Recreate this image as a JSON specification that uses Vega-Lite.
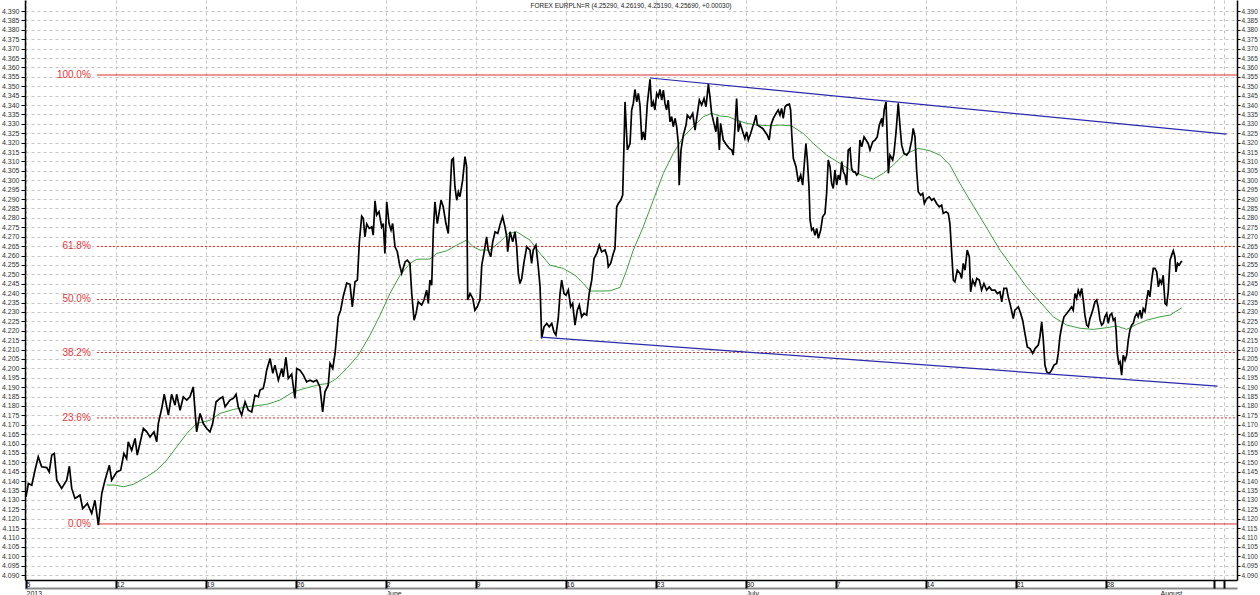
{
  "$schema": "https://vega.github.io/schema/vega-lite/v6.json",
  "width": 1212,
  "height": 580,
  "autosize": {"type": "none"},
  "padding": {"left": 25, "right": 23, "top": 0, "bottom": 15},
  "background": "white",
  "title": {"text": "FOREX EURPLN=R (4.25290, 4.26190, 4.25190, 4.25690, +0.00030)", "anchor": "middle", "offset": -9, "fontSize": 6.5, "fontWeight": "normal", "color": "#222222", "font": "Liberation Sans"},
  "config": {"view": {"stroke": null}, "font": "Liberation Sans"},
  "datasets": {
    "price": [
      {"d":0.00,"v":4.1316},{"d":0.13,"v":4.1387},{"d":0.32,"v":4.1378},{"d":0.50,"v":4.1458},{"d":0.68,"v":4.1529},{"d":0.87,"v":4.1476},{"d":1.15,"v":4.1472},{"d":1.29,"v":4.1449},{"d":1.43,"v":4.1538},{"d":1.57,"v":4.1547},{"d":1.71,"v":4.1405},{"d":1.98,"v":4.1361},{"d":2.26,"v":4.1405},{"d":2.41,"v":4.1479},{"d":2.54,"v":4.1361},{"d":2.72,"v":4.1308},{"d":3.00,"v":4.1325},{"d":3.15,"v":4.1254},{"d":3.41,"v":4.1281},{"d":3.65,"v":4.1228},{"d":3.83,"v":4.1298},{"d":4.02,"v":4.1166},{"d":4.21,"v":4.1334},{"d":4.39,"v":4.1405},{"d":4.63,"v":4.1485},{"d":4.76,"v":4.1405},{"d":5.04,"v":4.1449},{"d":5.26,"v":4.1458},{"d":5.44,"v":4.1547},{"d":5.59,"v":4.1520},{"d":5.68,"v":4.1609},{"d":5.87,"v":4.1564},{"d":6.06,"v":4.1627},{"d":6.18,"v":4.1538},{"d":6.33,"v":4.1600},{"d":6.52,"v":4.1680},{"d":6.71,"v":4.1662},{"d":6.89,"v":4.1635},{"d":7.11,"v":4.1662},{"d":7.26,"v":4.1609},{"d":7.35,"v":4.1706},{"d":7.54,"v":4.1786},{"d":7.68,"v":4.1862},{"d":7.91,"v":4.1751},{"d":8.09,"v":4.1862},{"d":8.28,"v":4.1804},{"d":8.37,"v":4.1862},{"d":8.56,"v":4.1777},{"d":8.74,"v":4.1848},{"d":8.93,"v":4.1831},{"d":9.11,"v":4.1848},{"d":9.29,"v":4.1901},{"d":9.48,"v":4.1662},{"d":9.67,"v":4.1760},{"d":9.85,"v":4.1706},{"d":10.04,"v":4.1680},{"d":10.22,"v":4.1662},{"d":10.37,"v":4.1706},{"d":10.56,"v":4.1822},{"d":10.78,"v":4.1840},{"d":10.93,"v":4.1848},{"d":11.06,"v":4.1795},{"d":11.33,"v":4.1831},{"d":11.52,"v":4.1840},{"d":11.67,"v":4.1862},{"d":11.79,"v":4.1795},{"d":11.98,"v":4.1751},{"d":12.17,"v":4.1822},{"d":12.35,"v":4.1777},{"d":12.54,"v":4.1768},{"d":12.72,"v":4.1857},{"d":12.91,"v":4.1848},{"d":13.00,"v":4.1884},{"d":13.18,"v":4.1893},{"d":13.28,"v":4.1937},{"d":13.37,"v":4.1990},{"d":13.56,"v":4.2052},{"d":13.71,"v":4.1973},{"d":13.83,"v":4.2017},{"d":14.02,"v":4.1937},{"d":14.21,"v":4.1999},{"d":14.29,"v":4.1955},{"d":14.44,"v":4.2058},{"d":14.57,"v":4.1946},{"d":14.76,"v":4.1969},{"d":14.89,"v":4.1875},{"d":14.94,"v":4.1840},{"d":15.04,"v":4.1999},{"d":15.22,"v":4.1990},{"d":15.41,"v":4.1964},{"d":15.59,"v":4.1928},{"d":15.78,"v":4.1937},{"d":15.96,"v":4.1928},{"d":16.15,"v":4.1937},{"d":16.33,"v":4.1901},{"d":16.48,"v":4.1768},{"d":16.61,"v":4.1875},{"d":16.79,"v":4.1910},{"d":16.89,"v":4.2026},{"d":17.04,"v":4.1999},{"d":17.17,"v":4.2079},{"d":17.35,"v":4.2274},{"d":17.48,"v":4.2309},{"d":17.63,"v":4.2385},{"d":17.82,"v":4.2453},{"d":18.00,"v":4.2447},{"d":18.13,"v":4.2327},{"d":18.28,"v":4.2460},{"d":18.41,"v":4.2469},{"d":18.52,"v":4.2673},{"d":18.65,"v":4.2809},{"d":18.74,"v":4.2797},{"d":18.83,"v":4.2699},{"d":18.93,"v":4.2767},{"d":19.07,"v":4.2744},{"d":19.21,"v":4.2752},{"d":19.29,"v":4.2708},{"d":19.39,"v":4.2891},{"d":19.48,"v":4.2815},{"d":19.61,"v":4.2833},{"d":19.76,"v":4.2752},{"d":19.85,"v":4.2770},{"d":19.94,"v":4.2611},{"d":20.04,"v":4.2886},{"d":20.17,"v":4.2770},{"d":20.28,"v":4.2735},{"d":20.37,"v":4.2770},{"d":20.50,"v":4.2646},{"d":20.63,"v":4.2620},{"d":20.74,"v":4.2558},{"d":20.87,"v":4.2505},{"d":21.06,"v":4.2566},{"d":21.18,"v":4.2575},{"d":21.33,"v":4.2558},{"d":21.43,"v":4.2398},{"d":21.56,"v":4.2256},{"d":21.67,"v":4.2292},{"d":21.79,"v":4.2354},{"d":21.98,"v":4.2336},{"d":22.11,"v":4.2363},{"d":22.26,"v":4.2416},{"d":22.35,"v":4.2345},{"d":22.44,"v":4.2469},{"d":22.54,"v":4.2442},{"d":22.63,"v":4.2735},{"d":22.72,"v":4.2886},{"d":22.85,"v":4.2770},{"d":22.96,"v":4.2833},{"d":23.06,"v":4.2894},{"d":23.18,"v":4.2859},{"d":23.33,"v":4.2770},{"d":23.46,"v":4.2717},{"d":23.56,"v":4.2930},{"d":23.65,"v":4.3108},{"d":23.74,"v":4.3117},{"d":23.83,"v":4.2966},{"d":23.93,"v":4.2894},{"d":24.02,"v":4.2939},{"d":24.11,"v":4.2913},{"d":24.26,"v":4.3002},{"d":24.39,"v":4.3126},{"d":24.48,"v":4.3072},{"d":24.54,"v":4.2363},{"d":24.67,"v":4.2398},{"d":24.82,"v":4.2372},{"d":24.94,"v":4.2309},{"d":25.07,"v":4.2327},{"d":25.22,"v":4.2363},{"d":25.32,"v":4.2549},{"d":25.44,"v":4.2611},{"d":25.59,"v":4.2699},{"d":25.68,"v":4.2629},{"d":25.82,"v":4.2593},{"d":25.93,"v":4.2673},{"d":26.06,"v":4.2726},{"d":26.21,"v":4.2717},{"d":26.33,"v":4.2762},{"d":26.48,"v":4.2806},{"d":26.61,"v":4.2752},{"d":26.71,"v":4.2699},{"d":26.76,"v":4.2620},{"d":26.89,"v":4.2726},{"d":27.04,"v":4.2673},{"d":27.17,"v":4.2726},{"d":27.26,"v":4.2646},{"d":27.35,"v":4.2505},{"d":27.44,"v":4.2451},{"d":27.54,"v":4.2478},{"d":27.67,"v":4.2566},{"d":27.82,"v":4.2646},{"d":28.00,"v":4.2629},{"d":28.09,"v":4.2558},{"d":28.18,"v":4.2629},{"d":28.33,"v":4.2655},{"d":28.46,"v":4.2540},{"d":28.56,"v":4.2433},{"d":28.65,"v":4.2159},{"d":28.78,"v":4.2221},{"d":28.93,"v":4.2239},{"d":29.07,"v":4.2221},{"d":29.21,"v":4.2239},{"d":29.33,"v":4.2194},{"d":29.44,"v":4.2177},{"d":29.57,"v":4.2265},{"d":29.67,"v":4.2398},{"d":29.76,"v":4.2469},{"d":29.89,"v":4.2398},{"d":30.00,"v":4.2389},{"d":30.13,"v":4.2416},{"d":30.26,"v":4.2327},{"d":30.37,"v":4.2345},{"d":30.50,"v":4.2230},{"d":30.63,"v":4.2309},{"d":30.74,"v":4.2336},{"d":30.87,"v":4.2274},{"d":31.00,"v":4.2292},{"d":31.15,"v":4.2283},{"d":31.29,"v":4.2398},{"d":31.43,"v":4.2469},{"d":31.56,"v":4.2584},{"d":31.71,"v":4.2611},{"d":31.85,"v":4.2655},{"d":31.98,"v":4.2620},{"d":32.17,"v":4.2629},{"d":32.29,"v":4.2593},{"d":32.35,"v":4.2540},{"d":32.48,"v":4.2558},{"d":32.63,"v":4.2611},{"d":32.72,"v":4.2637},{"d":32.82,"v":4.2859},{"d":32.91,"v":4.2877},{"d":33.04,"v":4.2894},{"d":33.15,"v":4.2921},{"d":33.22,"v":4.3178},{"d":33.28,"v":4.3417},{"d":33.41,"v":4.3161},{"d":33.56,"v":4.3196},{"d":33.65,"v":4.3374},{"d":33.74,"v":4.3409},{"d":33.83,"v":4.3483},{"d":33.93,"v":4.3417},{"d":34.02,"v":4.3462},{"d":34.11,"v":4.3400},{"d":34.21,"v":4.3214},{"d":34.29,"v":4.3258},{"d":34.39,"v":4.3214},{"d":34.52,"v":4.3409},{"d":34.67,"v":4.3537},{"d":34.76,"v":4.3391},{"d":34.85,"v":4.3417},{"d":34.94,"v":4.3374},{"d":35.04,"v":4.3462},{"d":35.13,"v":4.3444},{"d":35.22,"v":4.3483},{"d":35.32,"v":4.3427},{"d":35.41,"v":4.3480},{"d":35.50,"v":4.3409},{"d":35.59,"v":4.3374},{"d":35.68,"v":4.3427},{"d":35.78,"v":4.3311},{"d":35.87,"v":4.3338},{"d":35.96,"v":4.3285},{"d":36.06,"v":4.3329},{"d":36.15,"v":4.3285},{"d":36.24,"v":4.3196},{"d":36.29,"v":4.2974},{"d":36.39,"v":4.3161},{"d":36.52,"v":4.3241},{"d":36.67,"v":4.3294},{"d":36.74,"v":4.3347},{"d":36.89,"v":4.3329},{"d":37.04,"v":4.3356},{"d":37.17,"v":4.3267},{"d":37.26,"v":4.3329},{"d":37.41,"v":4.3427},{"d":37.54,"v":4.3400},{"d":37.67,"v":4.3435},{"d":37.78,"v":4.3391},{"d":37.91,"v":4.3512},{"d":38.00,"v":4.3444},{"d":38.09,"v":4.3356},{"d":38.22,"v":4.3303},{"d":38.33,"v":4.3258},{"d":38.41,"v":4.3338},{"d":38.52,"v":4.3161},{"d":38.59,"v":4.3303},{"d":38.74,"v":4.3214},{"d":38.93,"v":4.3187},{"d":39.07,"v":4.3170},{"d":39.21,"v":4.3161},{"d":39.29,"v":4.3134},{"d":39.39,"v":4.3285},{"d":39.48,"v":4.3435},{"d":39.57,"v":4.3258},{"d":39.67,"v":4.3303},{"d":39.82,"v":4.3258},{"d":39.94,"v":4.3222},{"d":40.04,"v":4.3258},{"d":40.13,"v":4.3214},{"d":40.26,"v":4.3249},{"d":40.37,"v":4.3285},{"d":40.44,"v":4.3303},{"d":40.56,"v":4.3347},{"d":40.63,"v":4.3294},{"d":40.78,"v":4.3285},{"d":40.93,"v":4.3276},{"d":41.06,"v":4.3258},{"d":41.18,"v":4.3241},{"d":41.29,"v":4.3214},{"d":41.39,"v":4.3294},{"d":41.52,"v":4.3329},{"d":41.67,"v":4.3356},{"d":41.79,"v":4.3374},{"d":41.89,"v":4.3347},{"d":41.98,"v":4.3382},{"d":42.07,"v":4.3329},{"d":42.17,"v":4.3391},{"d":42.26,"v":4.3400},{"d":42.41,"v":4.3405},{"d":42.48,"v":4.3374},{"d":42.54,"v":4.3249},{"d":42.63,"v":4.3117},{"d":42.78,"v":4.3072},{"d":42.91,"v":4.2992},{"d":43.04,"v":4.3028},{"d":43.15,"v":4.2974},{"d":43.22,"v":4.3063},{"d":43.33,"v":4.3196},{"d":43.41,"v":4.3108},{"d":43.50,"v":4.2966},{"d":43.56,"v":4.2789},{"d":43.65,"v":4.2735},{"d":43.74,"v":4.2744},{"d":43.83,"v":4.2708},{"d":43.93,"v":4.2744},{"d":44.02,"v":4.2691},{"d":44.15,"v":4.2735},{"d":44.26,"v":4.2806},{"d":44.39,"v":4.2824},{"d":44.48,"v":4.2930},{"d":44.57,"v":4.3108},{"d":44.67,"v":4.3072},{"d":44.76,"v":4.2983},{"d":44.85,"v":4.2957},{"d":44.94,"v":4.3055},{"d":45.04,"v":4.2974},{"d":45.13,"v":4.3028},{"d":45.22,"v":4.3001},{"d":45.32,"v":4.3099},{"d":45.41,"v":4.3045},{"d":45.50,"v":4.3028},{"d":45.59,"v":4.2974},{"d":45.68,"v":4.3161},{"d":45.78,"v":4.3170},{"d":45.87,"v":4.3063},{"d":45.96,"v":4.3045},{"d":46.06,"v":4.3045},{"d":46.15,"v":4.3028},{"d":46.24,"v":4.3037},{"d":46.33,"v":4.3214},{"d":46.43,"v":4.3178},{"d":46.56,"v":4.3231},{"d":46.67,"v":4.3214},{"d":46.79,"v":4.3196},{"d":46.89,"v":4.3161},{"d":47.04,"v":4.3205},{"d":47.17,"v":4.3214},{"d":47.29,"v":4.3231},{"d":47.41,"v":4.3294},{"d":47.54,"v":4.3329},{"d":47.59,"v":4.3285},{"d":47.68,"v":4.3374},{"d":47.78,"v":4.3417},{"d":47.85,"v":4.3214},{"d":47.91,"v":4.3037},{"d":48.00,"v":4.3134},{"d":48.15,"v":4.3108},{"d":48.22,"v":4.3143},{"d":48.33,"v":4.3249},{"d":48.46,"v":4.3409},{"d":48.56,"v":4.3285},{"d":48.65,"v":4.3187},{"d":48.78,"v":4.3143},{"d":48.93,"v":4.3134},{"d":49.07,"v":4.3152},{"d":49.21,"v":4.3214},{"d":49.29,"v":4.3276},{"d":49.39,"v":4.3231},{"d":49.48,"v":4.3055},{"d":49.57,"v":4.2939},{"d":49.71,"v":4.2921},{"d":49.82,"v":4.2930},{"d":49.91,"v":4.2877},{"d":50.04,"v":4.2903},{"d":50.18,"v":4.2912},{"d":50.32,"v":4.2894},{"d":50.44,"v":4.2903},{"d":50.59,"v":4.2877},{"d":50.74,"v":4.2859},{"d":50.87,"v":4.2868},{"d":50.96,"v":4.2824},{"d":51.11,"v":4.2833},{"d":51.24,"v":4.2824},{"d":51.33,"v":4.2770},{"d":51.43,"v":4.2611},{"d":51.52,"v":4.2469},{"d":51.61,"v":4.2460},{"d":51.74,"v":4.2522},{"d":51.89,"v":4.2505},{"d":51.98,"v":4.2478},{"d":52.07,"v":4.2558},{"d":52.17,"v":4.2522},{"d":52.29,"v":4.2629},{"d":52.41,"v":4.2593},{"d":52.48,"v":4.2407},{"d":52.59,"v":4.2469},{"d":52.72,"v":4.2442},{"d":52.82,"v":4.2478},{"d":52.96,"v":4.2469},{"d":53.09,"v":4.2416},{"d":53.22,"v":4.2451},{"d":53.37,"v":4.2416},{"d":53.52,"v":4.2433},{"d":53.65,"v":4.2416},{"d":53.83,"v":4.2416},{"d":53.96,"v":4.2398},{"d":54.11,"v":4.2407},{"d":54.21,"v":4.2354},{"d":54.33,"v":4.2425},{"d":54.48,"v":4.2425},{"d":54.57,"v":4.2380},{"d":54.71,"v":4.2327},{"d":54.85,"v":4.2265},{"d":54.94,"v":4.2309},{"d":55.04,"v":4.2318},{"d":55.13,"v":4.2327},{"d":55.26,"v":4.2292},{"d":55.37,"v":4.2256},{"d":55.50,"v":4.2185},{"d":55.63,"v":4.2114},{"d":55.78,"v":4.2105},{"d":55.93,"v":4.2079},{"d":56.06,"v":4.2105},{"d":56.24,"v":4.2123},{"d":56.33,"v":4.2167},{"d":56.43,"v":4.2247},{"d":56.52,"v":4.2150},{"d":56.61,"v":4.2017},{"d":56.71,"v":4.1981},{"d":56.85,"v":4.1973},{"d":56.98,"v":4.1990},{"d":57.11,"v":4.2017},{"d":57.26,"v":4.2026},{"d":57.35,"v":4.2079},{"d":57.44,"v":4.2167},{"d":57.54,"v":4.2221},{"d":57.67,"v":4.2274},{"d":57.82,"v":4.2292},{"d":57.96,"v":4.2309},{"d":58.09,"v":4.2327},{"d":58.18,"v":4.2309},{"d":58.28,"v":4.2398},{"d":58.37,"v":4.2372},{"d":58.46,"v":4.2416},{"d":58.56,"v":4.2389},{"d":58.65,"v":4.2425},{"d":58.74,"v":4.2363},{"d":58.83,"v":4.2283},{"d":58.93,"v":4.2230},{"d":59.02,"v":4.2221},{"d":59.11,"v":4.2265},{"d":59.21,"v":4.2292},{"d":59.29,"v":4.2318},{"d":59.39,"v":4.2354},{"d":59.48,"v":4.2363},{"d":59.57,"v":4.2327},{"d":59.67,"v":4.2256},{"d":59.76,"v":4.2230},{"d":59.85,"v":4.2239},{"d":59.94,"v":4.2274},{"d":60.04,"v":4.2292},{"d":60.13,"v":4.2239},{"d":60.22,"v":4.2283},{"d":60.32,"v":4.2292},{"d":60.41,"v":4.2256},{"d":60.50,"v":4.2265},{"d":60.56,"v":4.2203},{"d":60.63,"v":4.2079},{"d":60.71,"v":4.2026},{"d":60.78,"v":4.2035},{"d":60.87,"v":4.1964},{"d":60.96,"v":4.2070},{"d":61.06,"v":4.2043},{"d":61.15,"v":4.2070},{"d":61.24,"v":4.2150},{"d":61.33,"v":4.2203},{"d":61.43,"v":4.2230},{"d":61.52,"v":4.2239},{"d":61.61,"v":4.2274},{"d":61.71,"v":4.2292},{"d":61.79,"v":4.2274},{"d":61.89,"v":4.2309},{"d":61.98,"v":4.2265},{"d":62.07,"v":4.2318},{"d":62.17,"v":4.2301},{"d":62.26,"v":4.2363},{"d":62.35,"v":4.2416},{"d":62.44,"v":4.2380},{"d":62.54,"v":4.2469},{"d":62.63,"v":4.2531},{"d":62.72,"v":4.2531},{"d":62.82,"v":4.2513},{"d":62.91,"v":4.2433},{"d":63.00,"v":4.2469},{"d":63.09,"v":4.2451},{"d":63.18,"v":4.2495},{"d":63.28,"v":4.2345},{"d":63.37,"v":4.2336},{"d":63.46,"v":4.2407},{"d":63.56,"v":4.2575},{"d":63.65,"v":4.2602},{"d":63.74,"v":4.2625},{"d":63.83,"v":4.2593},{"d":63.89,"v":4.2513},{"d":63.98,"v":4.2558},{"d":64.07,"v":4.2549},{"d":64.17,"v":4.2566},{"d":64.24,"v":4.2569}
    ],
    "ma": [
      {"d":4.48,"v":4.1379},{"d":4.94,"v":4.1379},{"d":5.41,"v":4.1370},{"d":5.96,"v":4.1383},{"d":6.71,"v":4.1423},{"d":7.26,"v":4.1458},{"d":7.82,"v":4.1512},{"d":8.37,"v":4.1582},{"d":8.93,"v":4.1653},{"d":9.48,"v":4.1706},{"d":10.22,"v":4.1724},{"d":10.78,"v":4.1760},{"d":11.52,"v":4.1781},{"d":12.26,"v":4.1795},{"d":13.37,"v":4.1808},{"d":14.11,"v":4.1831},{"d":14.85,"v":4.1875},{"d":15.59,"v":4.1896},{"d":16.33,"v":4.1914},{"d":16.79,"v":4.1919},{"d":17.26,"v":4.1946},{"d":17.82,"v":4.1999},{"d":18.46,"v":4.2070},{"d":19.11,"v":4.2176},{"d":19.67,"v":4.2283},{"d":20.22,"v":4.2398},{"d":20.78,"v":4.2495},{"d":21.33,"v":4.2558},{"d":21.71,"v":4.2580},{"d":22.44,"v":4.2581},{"d":22.82,"v":4.2611},{"d":23.37,"v":4.2625},{"d":23.93,"v":4.2655},{"d":24.48,"v":4.2682},{"d":24.85,"v":4.2646},{"d":25.22,"v":4.2629},{"d":25.78,"v":4.2629},{"d":26.33,"v":4.2673},{"d":26.79,"v":4.2717},{"d":27.26,"v":4.2726},{"d":28.00,"v":4.2682},{"d":28.56,"v":4.2611},{"d":29.11,"v":4.2549},{"d":29.85,"v":4.2531},{"d":30.50,"v":4.2495},{"d":30.96,"v":4.2451},{"d":31.33,"v":4.2411},{"d":31.89,"v":4.2411},{"d":32.44,"v":4.2412},{"d":33.00,"v":4.2430},{"d":33.37,"v":4.2522},{"d":33.74,"v":4.2629},{"d":34.29,"v":4.2752},{"d":34.85,"v":4.2894},{"d":35.41,"v":4.3037},{"d":35.96,"v":4.3143},{"d":36.52,"v":4.3231},{"d":37.07,"v":4.3285},{"d":37.63,"v":4.3338},{"d":38.09,"v":4.3356},{"d":38.56,"v":4.3342},{"d":39.02,"v":4.3338},{"d":39.48,"v":4.3320},{"d":40.04,"v":4.3303},{"d":40.59,"v":4.3294},{"d":41.33,"v":4.3290},{"d":41.89,"v":4.3294},{"d":42.54,"v":4.3289},{"d":43.18,"v":4.3249},{"d":43.74,"v":4.3196},{"d":44.48,"v":4.3134},{"d":45.22,"v":4.3090},{"d":45.96,"v":4.3045},{"d":46.52,"v":4.3024},{"d":47.07,"v":4.3006},{"d":47.63,"v":4.3037},{"d":48.18,"v":4.3081},{"d":48.74,"v":4.3134},{"d":49.57,"v":4.3170},{"d":50.22,"v":4.3157},{"d":50.78,"v":4.3134},{"d":51.33,"v":4.3081},{"d":51.89,"v":4.2983},{"d":52.44,"v":4.2894},{"d":53.00,"v":4.2806},{"d":53.56,"v":4.2717},{"d":54.11,"v":4.2629},{"d":54.85,"v":4.2531},{"d":55.59,"v":4.2433},{"d":56.33,"v":4.2354},{"d":57.07,"v":4.2274},{"d":57.82,"v":4.2230},{"d":58.56,"v":4.2213},{"d":59.29,"v":4.2207},{"d":60.04,"v":4.2216},{"d":60.59,"v":4.2225},{"d":61.15,"v":4.2207},{"d":61.71,"v":4.2234},{"d":62.26,"v":4.2256},{"d":63.00,"v":4.2274},{"d":63.56,"v":4.2283},{"d":64.21,"v":4.2322}
    ],
    "trend": [
      {"name":"upper","d0":34.67,"v0":4.3544,"d1":66.7,"v1":4.3246},
      {"name":"lower","d0":28.6,"v0":4.2166,"d1":66.2,"v1":4.1905}
    ],
    "fib": [
      {"label":"100.0%","level":4.3560,"kind":"extreme","start":3.94},
      {"label":"61.8%","level":4.2648,"kind":"retracement","start":3.94},
      {"label":"50.0%","level":4.2366,"kind":"retracement","start":3.94},
      {"label":"38.2%","level":4.2084,"kind":"retracement","start":3.94},
      {"label":"23.6%","level":4.1736,"kind":"retracement","start":3.94},
      {"label":"0.0%","level":4.1172,"kind":"extreme","start":3.94}
    ]
  },
  "resolve": {"axis": {"x": "independent", "y": "independent"}},
  "layer": [
    {
      "data": {"name": "fib"},
      "mark": {"type": "rule", "strokeWidth": 1},
      "encoding": {
        "x": {"field": "start", "type": "quantitative", "scale": {"domain": [-0.056, 67.28], "nice": false, "zero": false}, "axis": null},
        "x2": {"datum": 67.28},
        "y": {"field": "level", "type": "quantitative", "scale": {"domain": [4.0874, 4.3959], "nice": false, "zero": false}, "axis": null},
        "color": {"value": "#d42a2a"},
        "strokeDash": {"field": "kind", "type": "nominal", "scale": {"domain": ["extreme", "retracement"], "range": [[1, 0], [2, 2]]}, "legend": null}
      }
    },
    {
      "data": {"name": "fib"},
      "mark": {"type": "text", "align": "right", "baseline": "middle", "fontSize": 10, "color": "#e8343a"},
      "encoding": {
        "x": {"datum": 3.6, "type": "quantitative", "scale": {"domain": [-0.056, 67.28], "nice": false, "zero": false}, "axis": null},
        "y": {"field": "level", "type": "quantitative", "scale": {"domain": [4.0874, 4.3959], "nice": false, "zero": false}, "axis": null},
        "text": {"field": "label"}
      }
    },
    {
      "data": {"name": "ma"},
      "mark": {"type": "line", "color": "#3f9f3f", "strokeWidth": 1},
      "encoding": {
        "x": {"field": "d", "type": "quantitative", "scale": {"domain": [-0.056, 67.28], "nice": false, "zero": false},
          "axis": {"orient": "bottom", "values": [0, 20, 40, 63], "labelExpr": "datum.value == 0 ? '2013' : datum.value == 20 ? 'June' : datum.value == 40 ? 'July' : 'August'", "offset": 8, "title": null, "grid": false, "ticks": false, "labelAlign": "left", "labelBaseline": "top", "labelPadding": 1, "labelDx": 1, "labelFontSize": 7, "labelColor": "#222222", "labelOverlap": false, "labelBound": false, "labelFlush": false, "domainColor": "#8a8a8a", "domainWidth": 2}},
        "y": {"field": "v", "type": "quantitative", "scale": {"domain": [4.0874, 4.3959], "nice": false, "zero": false},
          "axis": {"orient": "right", "values": [4.09,4.095,4.1,4.105,4.11,4.115,4.12,4.125,4.13,4.135,4.14,4.145,4.15,4.155,4.16,4.165,4.17,4.175,4.18,4.185,4.19,4.195,4.2,4.205,4.21,4.215,4.22,4.225,4.23,4.235,4.24,4.245,4.25,4.255,4.26,4.265,4.27,4.275,4.28,4.285,4.29,4.295,4.3,4.305,4.31,4.315,4.32,4.325,4.33,4.335,4.34,4.345,4.35,4.355,4.36,4.365,4.37,4.375,4.38,4.385,4.39], "format": ".3f", "title": null, "grid": false, "tickSize": 3, "tickColor": "#000000", "labelFontSize": 6.5, "labelColor": "#333333", "labelPadding": 1, "labelOverlap": false, "labelBound": false, "domainColor": "#000000", "domainWidth": 1.5}}
      }
    },
    {
      "data": {"name": "price"},
      "mark": {"type": "line", "color": "#000000", "strokeWidth": 1.7},
      "encoding": {
        "x": {"field": "d", "type": "quantitative", "scale": {"domain": [-0.056, 67.28], "nice": false, "zero": false},
          "axis": {"orient": "bottom", "values": [0, 5, 10, 15, 20, 25, 30, 35, 40, 45, 50, 55, 60, 66.0, 66.56], "labelExpr": "datum.value <= 60 ? ['5','12','19','26','2','9','16','23','30','7','14','21','28'][round(datum.value / 5)] : ''", "title": null, "grid": true, "gridColor": "#c4c4c4", "gridDash": [3, 3], "gridWidth": 1, "tickSize": 8, "tickWidth": 2, "tickColor": "#000000", "labelAlign": "left", "labelBaseline": "top", "labelPadding": -8, "labelDx": 2, "labelFontSize": 7, "labelColor": "#222222", "labelOverlap": false, "labelBound": false, "labelFlush": false, "domainColor": "#000000", "domainWidth": 1.5}},
        "y": {"field": "v", "type": "quantitative", "scale": {"domain": [4.0874, 4.3959], "nice": false, "zero": false},
          "axis": {"orient": "left", "values": [4.09,4.095,4.1,4.105,4.11,4.115,4.12,4.125,4.13,4.135,4.14,4.145,4.15,4.155,4.16,4.165,4.17,4.175,4.18,4.185,4.19,4.195,4.2,4.205,4.21,4.215,4.22,4.225,4.23,4.235,4.24,4.245,4.25,4.255,4.26,4.265,4.27,4.275,4.28,4.285,4.29,4.295,4.3,4.305,4.31,4.315,4.32,4.325,4.33,4.335,4.34,4.345,4.35,4.355,4.36,4.365,4.37,4.375,4.38,4.385,4.39], "format": ".3f", "title": null, "grid": true, "gridColor": "#c4c4c4", "gridDash": [3, 3], "gridWidth": 1, "tickSize": 4, "tickColor": "#000000", "labelFontSize": 7, "labelColor": "#333333", "labelPadding": 2, "labelOverlap": false, "labelBound": false, "domainColor": "#000000", "domainWidth": 1.5}}
      }
    },
    {
      "data": {"name": "trend"},
      "mark": {"type": "rule", "color": "#2a2aaa", "strokeWidth": 1.2},
      "encoding": {
        "x": {"field": "d0", "type": "quantitative", "scale": {"domain": [-0.056, 67.28], "nice": false, "zero": false}, "axis": null},
        "x2": {"field": "d1"},
        "y": {"field": "v0", "type": "quantitative", "scale": {"domain": [4.0874, 4.3959], "nice": false, "zero": false}, "axis": null},
        "y2": {"field": "v1"}
      }
    }
  ]
}
